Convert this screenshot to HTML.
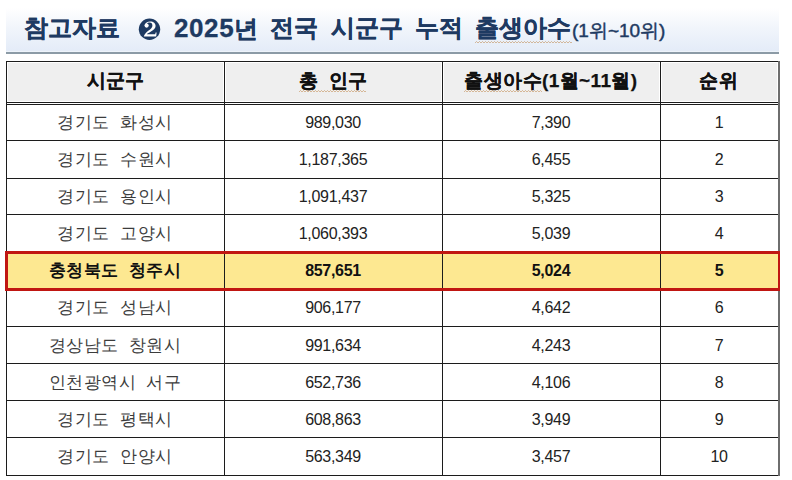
<!DOCTYPE html>
<html><head><meta charset="utf-8">
<style>
html,body{margin:0;padding:0;background:#fff;}
body{width:792px;height:480px;position:relative;overflow:hidden;font-family:"Liberation Sans",sans-serif;}
.a{position:absolute;}
.t{position:absolute;top:6px;height:44px;line-height:44px;color:#1e3a62;font-weight:bold;font-size:24px;white-space:nowrap;-webkit-text-stroke:0.3px #1e3a62;}
.hl{position:absolute;background:#1c1c1c;}
.c{position:absolute;text-align:center;white-space:pre;color:#3c3c3c;font-size:17px;letter-spacing:0.5px;}
.n{position:absolute;text-align:center;white-space:pre;color:#222;font-size:16px;letter-spacing:-0.3px;}
.h{position:absolute;top:60px;height:41px;line-height:41px;-webkit-text-stroke:0.25px #111;text-align:center;white-space:pre;color:#111;font-size:19px;font-weight:bold;}
.b{font-weight:bold;color:#111;}
</style></head><body>

<div class="a" style="left:6px;top:8px;width:773px;height:44px;background:linear-gradient(#ffffff 0%,#f1f5fb 45%,#e4ecf8 97%,#f4f8fc 100%)"></div>
<div class="a" style="left:6px;top:52px;width:773px;height:2px;background:#8c9ba6"></div>
<div class="t" style="left:24px">참고자료</div>
<svg class="a" style="left:137.5px;top:18px" width="23" height="23" viewBox="0 0 23 23"><circle cx="11.5" cy="11.2" r="10.7" fill="#1e3a62"/><g fill="#fff" stroke="none"><circle cx="8.6" cy="7.6" r="2.1"/><path d="M6.6,7.4 C7.0,4.6 9.6,3.4 12.2,3.4 C15.6,3.4 17.6,5.4 17.6,8.0 C17.6,10.6 15.2,12.2 12.6,13.8 C11.0,14.8 9.6,15.4 8.8,16.2 L17.2,16.2 L17.6,14.4 L18.6,14.4 L18.2,18.6 L5.8,18.6 C6.4,16.0 8.4,14.2 10.6,12.6 C12.8,11.0 14.4,9.8 14.4,7.8 C14.4,5.8 13.4,4.6 11.6,4.6 C10.2,4.6 9.2,5.2 8.8,6.0 Z"/></g></svg>
<div class="t" style="left:174px"><span style="font-size:26px;letter-spacing:0.6px">2025</span>년</div>
<div class="t" style="left:270px">전국</div>
<div class="t" style="left:331px">시군구</div>
<div class="t" style="left:415px">누적</div>
<div class="t" style="left:475px">출생아수</div>
<div class="t" style="left:572px;font-size:19px;top:8.5px;font-weight:normal;-webkit-text-stroke:0.45px #1e3a62">(1위~10위)</div>
<div class="a" style="left:8px;top:63px;width:215px;height:38px;background:#efefef"></div>
<div class="a" style="left:226px;top:63px;width:215px;height:38px;background:#efefef"></div>
<div class="a" style="left:444px;top:63px;width:215px;height:38px;background:#efefef"></div>
<div class="a" style="left:662px;top:63px;width:115px;height:38px;background:#efefef"></div>
<div class="a" style="left:5px;top:251px;width:775px;height:40px;background:#fde891"></div>
<div class="hl" style="left:6px;top:61px;width:773px;height:1px"></div>
<div class="hl" style="left:6px;top:102px;width:773px;height:1px"></div>
<div class="hl" style="left:6px;top:104px;width:773px;height:1px"></div>
<div class="hl" style="left:6px;top:140px;width:773px;height:1px"></div>
<div class="hl" style="left:6px;top:178px;width:773px;height:1px"></div>
<div class="hl" style="left:6px;top:214px;width:773px;height:1px"></div>
<div class="hl" style="left:6px;top:326px;width:773px;height:1px"></div>
<div class="hl" style="left:6px;top:363px;width:773px;height:1px"></div>
<div class="hl" style="left:6px;top:400px;width:773px;height:1px"></div>
<div class="hl" style="left:6px;top:437px;width:773px;height:1px"></div>
<div class="hl" style="left:6px;top:475px;width:773px;height:1px"></div>
<div class="hl" style="left:6px;top:61px;width:1px;height:415px"></div>
<div class="hl" style="left:778px;top:61px;width:2px;height:415px;background:#6e6e6e"></div>
<div class="hl" style="left:224px;top:61px;width:1px;height:415px"></div>
<div class="hl" style="left:442px;top:61px;width:1px;height:415px"></div>
<div class="hl" style="left:660px;top:61px;width:1px;height:415px"></div>
<div class="a" style="left:5px;top:251px;width:775px;height:40px;box-sizing:border-box;border:3px solid #c01612;border-right-width:2px"></div>
<div class="h" style="left:6px;width:218px">시군구</div>
<div class="h" style="left:224px;width:218px">총  인구</div>
<div class="h" style="left:442px;width:218px;letter-spacing:0.4px">출생아수(1월~11월)</div>
<div class="h" style="left:660px;width:118px;letter-spacing:1px">순위</div>
<div class="c" style="left:6px;top:105px;width:218px;height:36px;line-height:36px">경기도  화성시</div>
<div class="n" style="left:224px;top:105px;width:218px;height:36px;line-height:36px">989,030</div>
<div class="n" style="left:442px;top:105px;width:218px;height:36px;line-height:36px">7,390</div>
<div class="n" style="left:660px;top:105px;width:118px;height:36px;line-height:36px">1</div>
<div class="c" style="left:6px;top:141px;width:218px;height:38px;line-height:38px">경기도  수원시</div>
<div class="n" style="left:224px;top:141px;width:218px;height:38px;line-height:38px">1,187,365</div>
<div class="n" style="left:442px;top:141px;width:218px;height:38px;line-height:38px">6,455</div>
<div class="n" style="left:660px;top:141px;width:118px;height:38px;line-height:38px">2</div>
<div class="c" style="left:6px;top:179px;width:218px;height:36px;line-height:36px">경기도  용인시</div>
<div class="n" style="left:224px;top:179px;width:218px;height:36px;line-height:36px">1,091,437</div>
<div class="n" style="left:442px;top:179px;width:218px;height:36px;line-height:36px">5,325</div>
<div class="n" style="left:660px;top:179px;width:118px;height:36px;line-height:36px">3</div>
<div class="c" style="left:6px;top:215px;width:218px;height:37px;line-height:37px">경기도  고양시</div>
<div class="n" style="left:224px;top:215px;width:218px;height:37px;line-height:37px">1,060,393</div>
<div class="n" style="left:442px;top:215px;width:218px;height:37px;line-height:37px">5,039</div>
<div class="n" style="left:660px;top:215px;width:118px;height:37px;line-height:37px">4</div>
<div class="c b" style="left:6px;top:252px;width:218px;height:37px;line-height:37px">충청북도  청주시</div>
<div class="n b" style="left:224px;top:252px;width:218px;height:37px;line-height:37px">857,651</div>
<div class="n b" style="left:442px;top:252px;width:218px;height:37px;line-height:37px">5,024</div>
<div class="n b" style="left:660px;top:252px;width:118px;height:37px;line-height:37px">5</div>
<div class="c" style="left:6px;top:289px;width:218px;height:38px;line-height:38px">경기도  성남시</div>
<div class="n" style="left:224px;top:289px;width:218px;height:38px;line-height:38px">906,177</div>
<div class="n" style="left:442px;top:289px;width:218px;height:38px;line-height:38px">4,642</div>
<div class="n" style="left:660px;top:289px;width:118px;height:38px;line-height:38px">6</div>
<div class="c" style="left:6px;top:327px;width:218px;height:37px;line-height:37px">경상남도  창원시</div>
<div class="n" style="left:224px;top:327px;width:218px;height:37px;line-height:37px">991,634</div>
<div class="n" style="left:442px;top:327px;width:218px;height:37px;line-height:37px">4,243</div>
<div class="n" style="left:660px;top:327px;width:118px;height:37px;line-height:37px">7</div>
<div class="c" style="left:6px;top:364px;width:218px;height:37px;line-height:37px">인천광역시  서구</div>
<div class="n" style="left:224px;top:364px;width:218px;height:37px;line-height:37px">652,736</div>
<div class="n" style="left:442px;top:364px;width:218px;height:37px;line-height:37px">4,106</div>
<div class="n" style="left:660px;top:364px;width:118px;height:37px;line-height:37px">8</div>
<div class="c" style="left:6px;top:401px;width:218px;height:37px;line-height:37px">경기도  평택시</div>
<div class="n" style="left:224px;top:401px;width:218px;height:37px;line-height:37px">608,863</div>
<div class="n" style="left:442px;top:401px;width:218px;height:37px;line-height:37px">3,949</div>
<div class="n" style="left:660px;top:401px;width:118px;height:37px;line-height:37px">9</div>
<div class="c" style="left:6px;top:438px;width:218px;height:38px;line-height:38px">경기도  안양시</div>
<div class="n" style="left:224px;top:438px;width:218px;height:38px;line-height:38px">563,349</div>
<div class="n" style="left:442px;top:438px;width:218px;height:38px;line-height:38px">3,457</div>
<div class="n" style="left:660px;top:438px;width:118px;height:38px;line-height:38px">10</div>
<svg class="a" style="left:475px;top:41px" width="97" height="3" viewBox="0 0 97 3"><polyline points="0.0,2 1.5,0.5 3.0,2 4.5,0.5 6.0,2 7.5,0.5 9.0,2 10.5,0.5 12.0,2 13.5,0.5 15.0,2 16.5,0.5 18.0,2 19.5,0.5 21.0,2 22.5,0.5 24.0,2 25.5,0.5 27.0,2 28.5,0.5 30.0,2 31.5,0.5 33.0,2 34.5,0.5 36.0,2 37.5,0.5 39.0,2 40.5,0.5 42.0,2 43.5,0.5 45.0,2 46.5,0.5 48.0,2 49.5,0.5 51.0,2 52.5,0.5 54.0,2 55.5,0.5 57.0,2 58.5,0.5 60.0,2 61.5,0.5 63.0,2 64.5,0.5 66.0,2 67.5,0.5 69.0,2 70.5,0.5 72.0,2 73.5,0.5 75.0,2 76.5,0.5 78.0,2 79.5,0.5 81.0,2 82.5,0.5 84.0,2 85.5,0.5 87.0,2 88.5,0.5 90.0,2 91.5,0.5 93.0,2 94.5,0.5 96.0,2 97.5,0.5" fill="none" stroke="rgba(185,120,50,0.6)" stroke-width="0.8"/></svg>
<svg class="a" style="left:299px;top:90px" width="67" height="3" viewBox="0 0 67 3"><polyline points="0.0,2 1.5,0.5 3.0,2 4.5,0.5 6.0,2 7.5,0.5 9.0,2 10.5,0.5 12.0,2 13.5,0.5 15.0,2 16.5,0.5 18.0,2 19.5,0.5 21.0,2 22.5,0.5 24.0,2 25.5,0.5 27.0,2 28.5,0.5 30.0,2 31.5,0.5 33.0,2 34.5,0.5 36.0,2 37.5,0.5 39.0,2 40.5,0.5 42.0,2 43.5,0.5 45.0,2 46.5,0.5 48.0,2 49.5,0.5 51.0,2 52.5,0.5 54.0,2 55.5,0.5 57.0,2 58.5,0.5 60.0,2 61.5,0.5 63.0,2 64.5,0.5 66.0,2 67.5,0.5" fill="none" stroke="rgba(185,120,50,0.6)" stroke-width="0.8"/></svg>
<svg class="a" style="left:464px;top:90px" width="78" height="3" viewBox="0 0 78 3"><polyline points="0.0,2 1.5,0.5 3.0,2 4.5,0.5 6.0,2 7.5,0.5 9.0,2 10.5,0.5 12.0,2 13.5,0.5 15.0,2 16.5,0.5 18.0,2 19.5,0.5 21.0,2 22.5,0.5 24.0,2 25.5,0.5 27.0,2 28.5,0.5 30.0,2 31.5,0.5 33.0,2 34.5,0.5 36.0,2 37.5,0.5 39.0,2 40.5,0.5 42.0,2 43.5,0.5 45.0,2 46.5,0.5 48.0,2 49.5,0.5 51.0,2 52.5,0.5 54.0,2 55.5,0.5 57.0,2 58.5,0.5 60.0,2 61.5,0.5 63.0,2 64.5,0.5 66.0,2 67.5,0.5 69.0,2 70.5,0.5 72.0,2 73.5,0.5 75.0,2 76.5,0.5 78.0,2 79.5,0.5" fill="none" stroke="rgba(185,120,50,0.6)" stroke-width="0.8"/></svg>
</body></html>
